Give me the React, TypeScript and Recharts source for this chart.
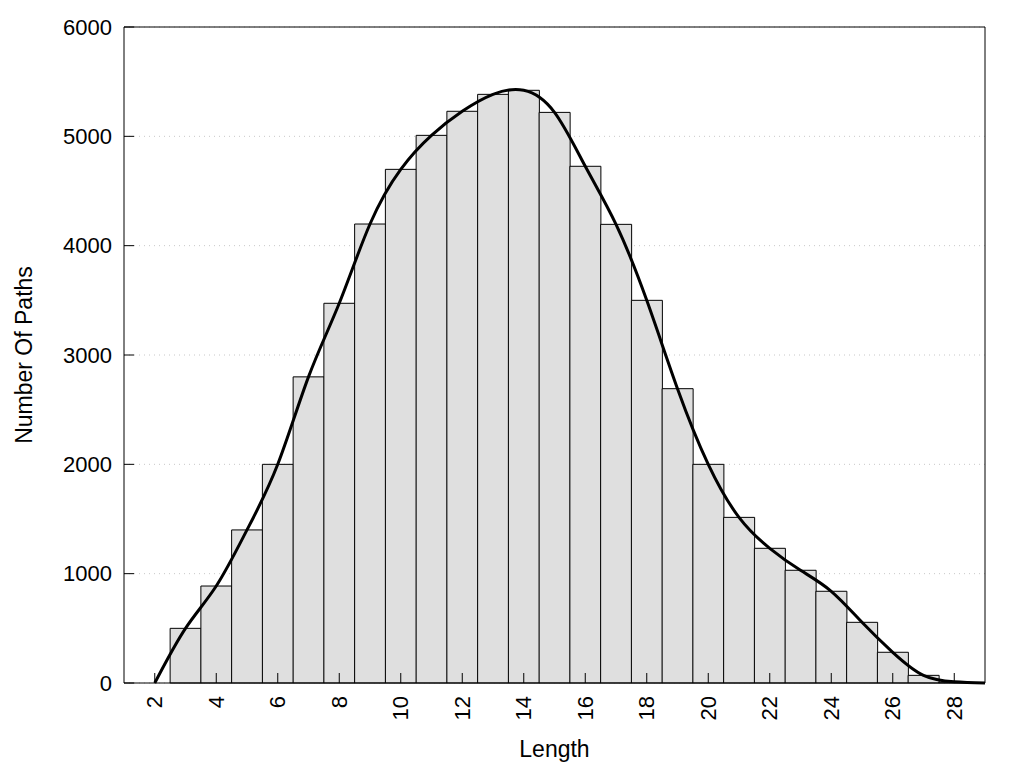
import React from 'react';
import { ComposedChart, Bar, Line, XAxis, YAxis, CartesianGrid } from 'recharts';

const lengths = [2, 3, 4, 5, 6, 7, 8, 9, 10, 11, 12, 13, 14, 15, 16, 17, 18, 19, 20, 21, 22, 23, 24, 25, 26, 27, 28, 29];
const pathCounts = [null, 500, 887, 1400, 2000, 2800, 3473, 4198, 4698, 5009, 5229, 5384, 5421, 5219, 4726, 4195, 3500, 2692, 2000, 1515, 1232, 1031, 839, 555, 281, 70, 8, null];
const smoothCounts = [0, 500, 887, 1400, 2000, 2800, 3473, 4198, 4698, 5009, 5229, 5384, 5421, 5219, 4726, 4195, 3500, 2692, 2000, 1515, 1232, 1031, 839, 555, 281, 70, 12, 0];
const xTicks = [2, 4, 6, 8, 10, 12, 14, 16, 18, 20, 22, 24, 26, 28];
const yTicks = [0, 1000, 2000, 3000, 4000, 5000, 6000];

const data = lengths.map((len, i) => ({ len, count: pathCounts[i], smooth: smoothCounts[i] }));

const FONT = '"Liberation Sans", Arial, sans-serif';

const XTick = (props: any) => {
  const { x, y, payload } = props;
  return (
    <text
      x={x}
      y={y}
      transform={`rotate(-90 ${x} ${y})`}
      textAnchor="end"
      dominantBaseline="central"
      fontSize={22}
      fontFamily={FONT}
      fill="#000"
    >
      {payload.value}
    </text>
  );
};

export default function App() {
  return (
    <div style={{ width: 1000, height: 760 }}>
      <ComposedChart
        width={1000}
        height={760}
        data={data}
        margin={{ top: 18, right: 22, bottom: 0, left: 0 }}
        barCategoryGap={0}
        barGap={0}
      >
        <CartesianGrid horizontal vertical={false} stroke="#c8c8c8" strokeDasharray="1 4" />
        <XAxis
          dataKey="len"
          type="number"
          domain={[1, 29]}
          ticks={xTicks}
          interval={0}
          height={85}
          stroke="#000"
          tickSize={-10}
          tickMargin={23}
          tick={<XTick />}
          label={{ value: 'Length', position: 'insideBottom', offset: 11, fontSize: 23, fontFamily: FONT, fill: '#000' }}
        />
        <XAxis xAxisId="top" orientation="top" dataKey="len" type="number" domain={[1, 29]} height={1} tick={false} tickLine={false} stroke="#000" />
        <YAxis
          type="number"
          domain={[0, 6000]}
          ticks={yTicks}
          interval={0}
          width={116}
          stroke="#000"
          tickSize={-10}
          tickMargin={22}
          tick={{ fontSize: 22, fontFamily: FONT, fill: '#000' }}
          label={{ value: 'Number Of Paths', angle: -90, position: 'insideLeft', offset: 16, fontSize: 23, fontFamily: FONT, fill: '#000', style: { textAnchor: 'middle' } }}
        />
        <YAxis yAxisId="right" orientation="right" type="number" domain={[0, 6000]} width={1} tick={false} tickLine={false} stroke="#000" />
        <Bar dataKey="count" fill="#dfdfdf" stroke="#000" strokeWidth={1} isAnimationActive={false} />
        <Line dataKey="smooth" type="natural" stroke="#000" strokeWidth={3} dot={false} activeDot={false} isAnimationActive={false} />
      </ComposedChart>
    </div>
  );
}
